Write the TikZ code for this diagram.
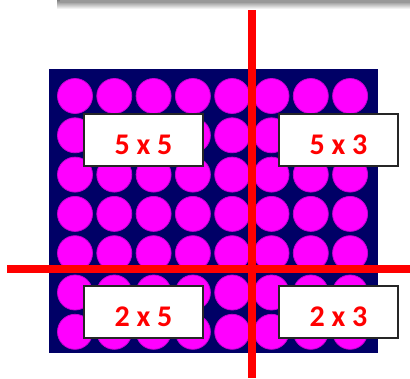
\documentclass[tikz,border=0pt]{standalone}
\usepackage{fontspec}
\setmainfont{Carlito}[BoldFont={Carlito Bold}]
\definecolor{gridnavy}{RGB}{0,0,102}
\definecolor{dotmag}{RGB}{255,0,255}
\definecolor{dotedge}{RGB}{200,0,210}
\definecolor{cutred}{RGB}{255,0,0}
\tikzset{
  dot/.style={circle, fill=dotmag, draw=dotedge, line width=0.8pt, minimum size=35pt, inner sep=0pt},
  cutline/.style={draw=cutred, line width=8pt},
  labelbox/.style={draw=black!85, line width=1.5pt, fill=white, minimum width=119pt, minimum height=52pt,
    inner sep=0pt, text height=29pt, text depth=0pt, font=\fontsize{30}{32}\selectfont\bfseries, text=cutred},
}
\begin{document}
\begin{tikzpicture}[x=1pt,y=-1pt]
\useasboundingbox (0,0) rectangle (410,378);
% top shadow band
\shade[top color=black!50, bottom color=white] (57,0) rectangle (410,9);
\fill[black!40] (60,0) rectangle (410,3);
% grid background
\fill[gridnavy] (49,69) rectangle (378,353);
\foreach \i in {0,...,7}{
  \foreach \j in {0,...,6}{
    \node[dot] (d\i\j) at ({75+39.3*\i},{96+39.3*\j}) {};
  }
}
% cut lines
\coordinate (vtop) at (252,10);
\coordinate (vbot) at (252,378);
\coordinate (hleft) at (7,269);
\coordinate (hright) at (410,269);
\draw[cutline] (vtop) -- (vbot);
\draw[cutline] (hleft) -- (hright);
% labels
\node[labelbox] (a) at (143.5,140) {5 x 5};
\node[labelbox] (b) at (338.5,140) {5 x 3};
\node[labelbox] (c) at (143.5,312) {2 x 5};
\node[labelbox] (e) at (338.5,312) {2 x 3};
\end{tikzpicture}
\end{document}
